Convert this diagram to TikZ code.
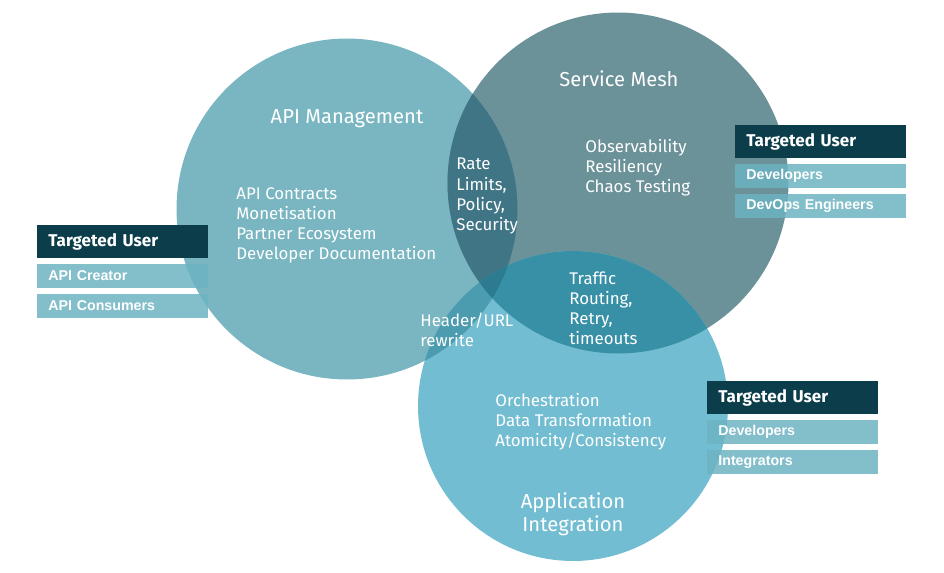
\documentclass[tikz,border=0pt]{standalone}
\usepackage{fontspec}
\setmainfont{Fira Sans}
\newfontfamily\rowfont{Liberation Sans}
\usetikzlibrary{positioning}
\definecolor{amgcol}{HTML}{79B6C1}
\definecolor{smcol}{HTML}{6B9199}
\definecolor{aicol}{HTML}{72BDD1}
\definecolor{amsmcol}{HTML}{3F7584}
\definecolor{smaicol}{HTML}{3790A6}
\definecolor{amaicol}{HTML}{4C9CB0}
\definecolor{allcol}{HTML}{2C7B90}
\definecolor{hdrcol}{HTML}{0B3D4B}
\definecolor{rowcol}{HTML}{6DB3C2}
\newcommand{\ramg}{3.41cm}
\newcommand{\rsm}{3.41cm}
\newcommand{\rai}{3.10cm}
\tikzset{
  txt/.style={text=white, inner sep=0, align=left, anchor=west, font=\fontsize{9.6}{11.4}\selectfont},
  ttl/.style={text=white, inner sep=0, align=center, font=\fontsize{11.5}{13}\selectfont},
  hdr/.style={fill=hdrcol, text=white, anchor=north west, inner xsep=0.22cm, inner ysep=0, text width=2.98cm, minimum height=0.66cm, align=left, font=\fontsize{9.7}{11}\selectfont\bfseries},
  usr/.style={fill=rowcol, fill opacity=0.85, text opacity=1, text=white, below=0.1cm of #1, inner xsep=0.22cm, inner ysep=0, text width=2.98cm, minimum height=0.48cm, align=left, font=\fontsize{8.1}{9}\selectfont\rowfont\bfseries}
}

\begin{document}
\begin{tikzpicture}[x=0.02cm, y=-0.02cm]
\useasboundingbox (0,0) rectangle (944,572);
\coordinate (am) at (347,209);
\coordinate (sm) at (618,183);
\coordinate (ai) at (573,406);
%circles
\fill[amgcol] (am) circle (\ramg);
\fill[smcol] (sm) circle (\rsm);
\fill[aicol] (ai) circle (\rai);
%overlaps
\begin{scope}
\clip (am) circle (\ramg);
\fill[amsmcol] (sm) circle (\rsm);
\fill[amaicol] (ai) circle (\rai);
\end{scope}
\begin{scope}
\clip (sm) circle (\rsm);
\fill[smaicol] (ai) circle (\rai);
\clip (am) circle (\ramg);
\fill[allcol] (ai) circle (\rai);
\end{scope}
%titles
\node[ttl] (t1) at (347,119) {API Management};
\node[ttl] (t2) at (619,79) {Service Mesh};
\node[ttl] (t3) at (573,514) {Application\\Integration};
%features
\node[txt] (f1) at (236,225) {API Contracts\\Monetisation\\Partner Ecosystem\\Developer Documentation};
\node[txt] (f2) at (456,196) {Rate\\Limits,\\Policy,\\Security};
\node[txt] (f3) at (585,168) {Observability\\Resiliency\\Chaos Testing};
\node[txt] (f4) at (569,308) {Traffic\\Routing,\\Retry,\\timeouts};
\node[txt] (f5) at (420,330) {Header/URL\\rewrite};
\node[txt] (f6) at (495,422) {Orchestration\\Data Transformation\\Atomicity/Consistency};
%targeted users
\node[hdr] (u1) at (37,225) {Targeted User};
\node[usr=u1] (u11) {API Creator};
\node[usr=u11] (u12) {API Consumers};
\node[hdr] (u2) at (735,125) {Targeted User};
\node[usr=u2] (u21) {Developers};
\node[usr=u21] (u22) {DevOps Engineers};
\node[hdr] (u3) at (707,381) {Targeted User};
\node[usr=u3] (u31) {Developers};
\node[usr=u31] (u32) {Integrators};
\end{tikzpicture}
\end{document}
